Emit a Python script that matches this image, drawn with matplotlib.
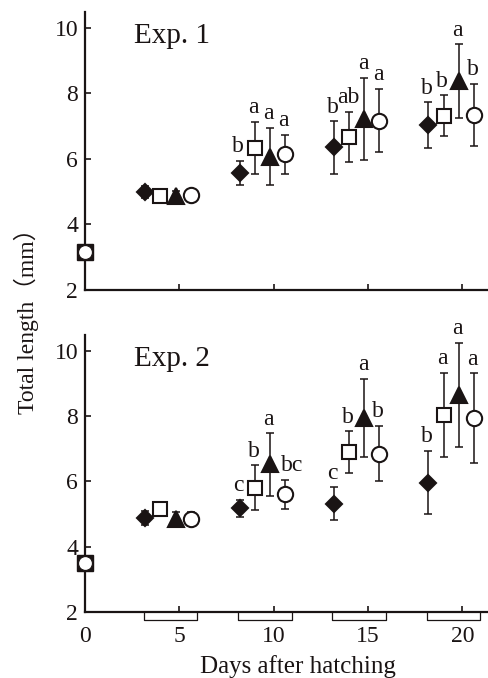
import numpy as np
import matplotlib
matplotlib.use('Agg')
import matplotlib.pyplot as plt

plt.rcParams['font.family'] = ['Liberation Serif', 'Noto Sans CJK JP']

days = [5, 10, 15, 20]
treatments = ['diamond', 'square', 'triangle', 'circle']

# Exp. 1 : mean and SD per treatment (rows) and day (cols)
exp1_day0 = 3.15
exp1_mean = [[5.00, 5.58, 6.35, 7.03],
             [4.87, 6.33, 6.67, 7.32],
             [4.87, 6.07, 7.22, 8.37],
             [4.90, 6.14, 7.17, 7.34]]
exp1_sd = [[0.18, 0.37, 0.80, 0.70],
           [0.10, 0.80, 0.77, 0.62],
           [0.15, 0.88, 1.25, 1.13],
           [0.18, 0.60, 0.97, 0.95]]
exp1_letters = [['', 'b', 'b', 'b'],
                ['', 'a', 'ab', 'b'],
                ['', 'a', 'a', 'a'],
                ['', 'a', 'a', 'b']]

# Exp. 2
exp2_day0 = 3.50
exp2_mean = [[4.88, 5.17, 5.32, 5.96],
             [5.14, 5.81, 6.90, 8.03],
             [4.85, 6.52, 7.95, 8.65],
             [4.85, 5.60, 6.85, 7.94]]
exp2_sd = [[0.22, 0.27, 0.50, 0.97],
           [0.18, 0.68, 0.63, 1.29],
           [0.22, 0.96, 1.19, 1.60],
           [0.22, 0.45, 0.85, 1.37]]
exp2_letters = [['', 'c', 'c', 'b'],
                ['', 'b', 'b', 'a'],
                ['', 'a', 'a', 'a'],
                ['', 'bc', 'b', 'a']]

ink = '#1a1414'
offsets = [-1.8, -1.0, -0.2, 0.6]
styles = [dict(marker='D', markersize=8.3, mfc=ink),
          dict(marker='s', markersize=10.5, mfc='white'),
          dict(marker='^', markersize=11.5, mfc=ink),
          dict(marker='o', markersize=11, mfc='white')]

fig = plt.figure(figsize=(4.89, 6.78), dpi=100)
W, H = 489, 678
ax1 = fig.add_axes([85 / W, 1 - 290 / H, 402 / W, 278 / H])
ax2 = fig.add_axes([85 / W, 1 - 612 / H, 402 / W, 277 / H])


def draw_panel(ax, day0, means, sds, letters, title, show_x):
    for i in range(4):
        xs = np.array(days) + offsets[i]
        ax.errorbar(xs, means[i], yerr=sds[i], fmt='none', ecolor=ink,
                    elinewidth=1.1, capsize=3.2, capthick=1.1, zorder=2)
        ax.plot(xs, means[i], linestyle='none', color=ink, mec=ink,
                mew=1.5, zorder=3, **styles[i])
        for x, m, s, lab in zip(xs, means[i], sds[i], letters[i]):
            if lab:
                dx = 5 if len(lab) > 1 and i == 3 else -1
                ax.annotate(lab, (x, m + s), xytext=(dx, 2.5),
                            textcoords='offset points', ha='center',
                            va='bottom', fontsize=17, color=ink)
    # day 0 point
    ax.plot([0], [day0], marker='s', markersize=11, mfc=ink, mec=ink,
            linestyle='none', clip_on=False, zorder=4)
    ax.plot([0], [day0], marker='o', markersize=10, mfc='white', mec=ink,
            mew=0.8, linestyle='none', clip_on=False, zorder=5)

    ax.set_xlim(0, 21.3)
    ax.set_ylim(2, 10.48)
    ax.set_yticks([2, 4, 6, 8, 10])
    ax.set_xticks([0, 5, 10, 15, 20])
    for side in ['top', 'right']:
        ax.spines[side].set_visible(False)
    for side in ['left', 'bottom']:
        ax.spines[side].set_linewidth(1.6)
        ax.spines[side].set_color(ink)
    ax.tick_params(direction='in', length=4.5, width=1.2, color=ink,
                   labelsize=17, labelcolor=ink, pad=5)
    if not show_x:
        ax.tick_params(axis='x', labelbottom=False)
    else:
        ax.tick_params(axis='x', pad=10)
    ax.text(2.6, 9.75, title, fontsize=21, color=ink, va='center')


draw_panel(ax1, exp1_day0, exp1_mean, exp1_sd, exp1_letters, 'Exp. 1', False)
draw_panel(ax2, exp2_day0, exp2_mean, exp2_sd, exp2_letters, 'Exp. 2', True)

# sampling brackets under the lower axis
trans = ax2.get_xaxis_transform()
for d in days:
    x0, x1 = d - 1.9, d + 0.95
    ax2.plot([x0, x0, x1, x1], [0, -0.03, -0.03, 0], color=ink, lw=0.9,
             transform=trans, clip_on=False)

fig.text(26 / W, 1 - 315 / H, 'Total length（mm）', rotation=90,
         ha='center', va='center', fontsize=17, color=ink)
fig.text(298 / W, 1 - 667 / H, 'Days after hatching', ha='center',
         va='center', fontsize=18, color=ink)

fig.savefig('out.png', dpi=100)
